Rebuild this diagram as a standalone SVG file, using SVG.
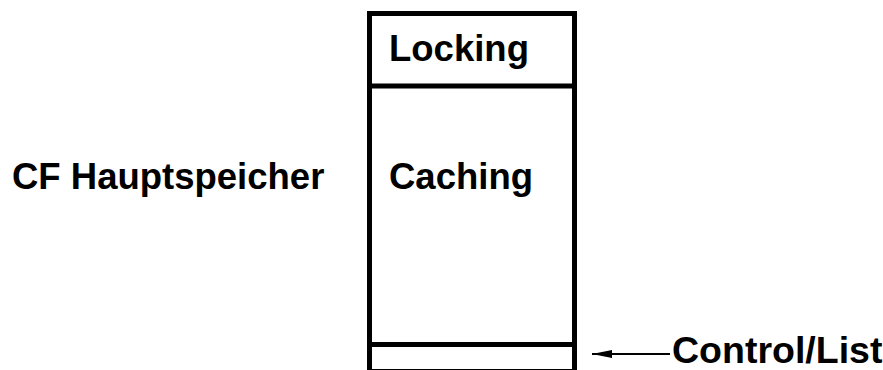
<svg xmlns="http://www.w3.org/2000/svg" width="883" height="370" viewBox="0 0 883 370">
<style>
text{font-family:"Liberation Sans",Arial,sans-serif;font-weight:bold;font-size:36.5px;fill:#000}
.b{fill:none;stroke:#000;stroke-width:5}
</style>
<defs>
<marker id="ah" markerWidth="20" markerHeight="8" refX="0" refY="4" orient="auto" markerUnits="userSpaceOnUse">
<path d="M0,4 L20,0 L20,8 Z" fill="#000"/>
</marker>
</defs>
<rect width="883" height="370" fill="#fff"/>
<g id="label-cf"><text x="12" y="189">CF Hauptspeicher</text></g>
<g id="memory">
<rect class="b" x="369.5" y="13.5" width="205" height="358"/>
<line class="b" x1="369.5" y1="86" x2="574.5" y2="86"/>
<line class="b" x1="369.5" y1="344.5" x2="574.5" y2="344.5"/>
</g>
<g id="locking"><text x="389" y="61">Locking</text></g>
<g id="caching"><text x="389" y="189">Caching</text></g>
<g id="control-list"><text x="672" y="363" style="font-size:37.5px">Control/List</text></g>
<g id="connectors">
<line x1="592" y1="354" x2="670" y2="354" stroke="#000" stroke-width="2" marker-start="url(#ah)"/>
</g>
</svg>
